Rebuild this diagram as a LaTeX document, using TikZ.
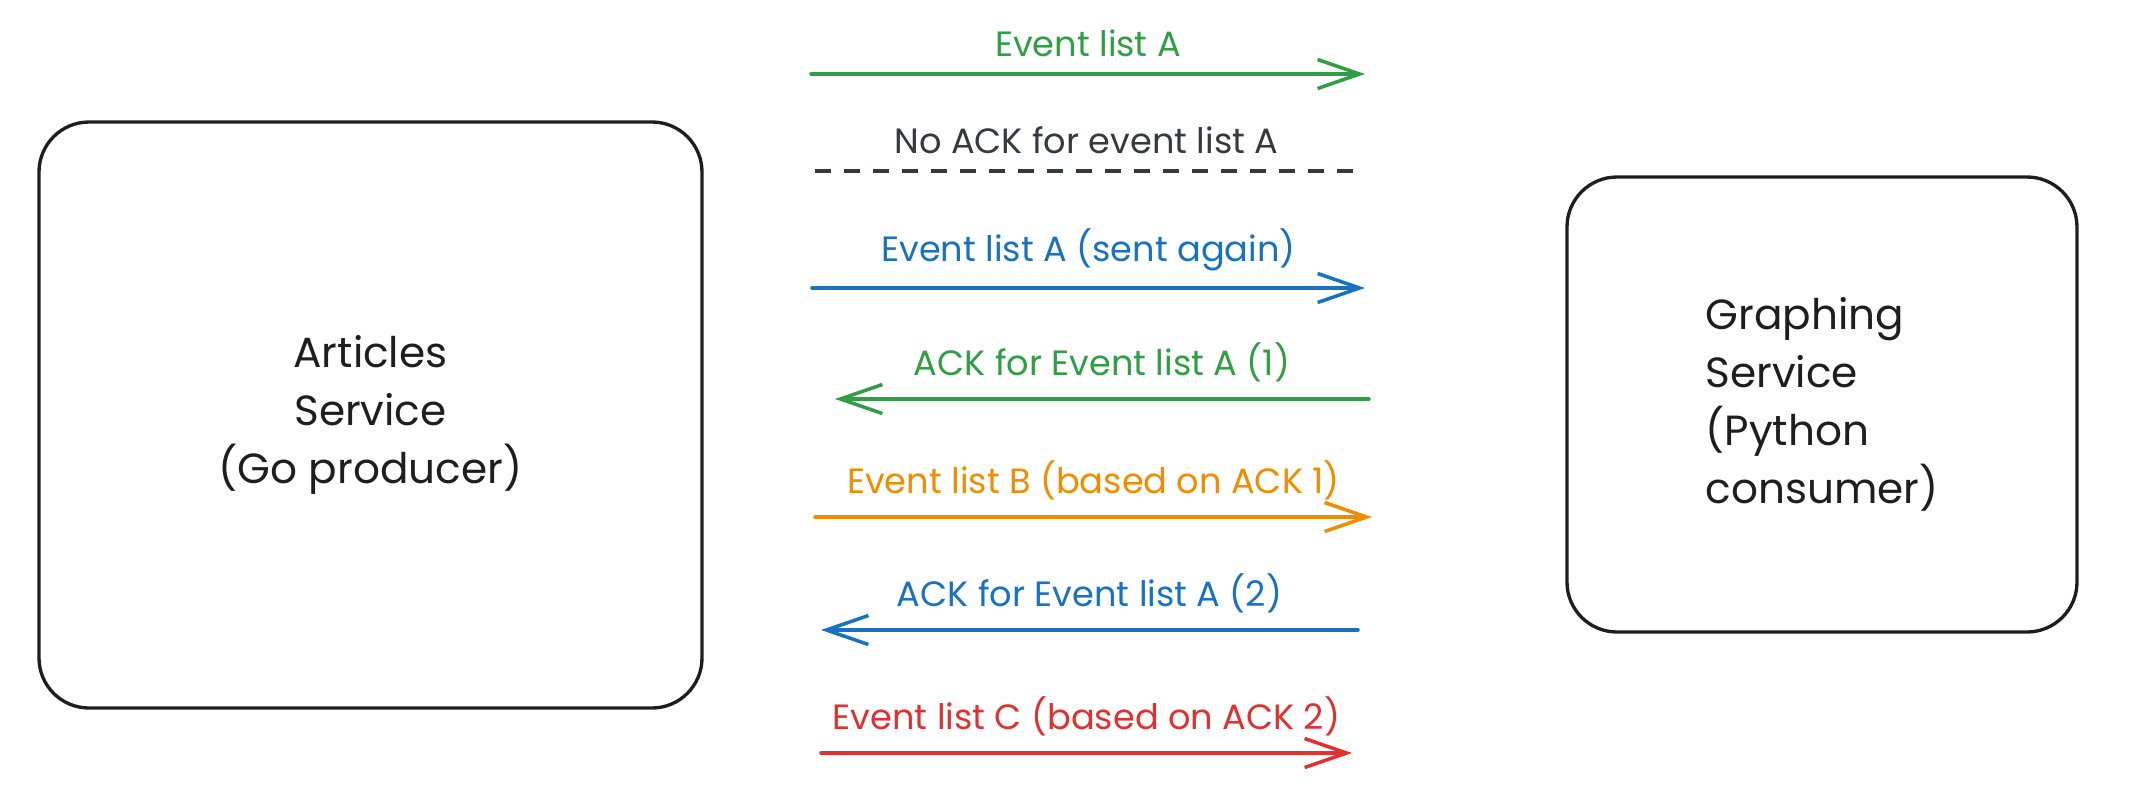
\documentclass[tikz,border=0pt]{standalone}
\usepackage{fontspec}
\setmainfont{Poppins}
\usetikzlibrary{arrows.meta}

\definecolor{exgreen}{HTML}{2F9E44}
\definecolor{exblue}{HTML}{1971C2}
\definecolor{exorange}{HTML}{F08C00}
\definecolor{exred}{HTML}{E03131}
\definecolor{exdark}{HTML}{1E1E1E}
\definecolor{exgray}{HTML}{343A40}

\tikzset{
  svcbox/.style={draw=exdark, line width=0.95pt, rounded corners=0.5cm,
    text=exdark, font=\fontsize{12}{16.5}\selectfont},
  msg/.style={line width=1pt, line cap=round,
    -{Straight Barb[length=0.42cm, width=0.29cm, line width=1pt]}},
  msglabel/.style={font=\fontsize{10}{12}\selectfont, above=0.04cm}
}

\begin{document}
\begin{tikzpicture}
        \useasboundingbox (0,0) rectangle (21.29,-7.99);
        % the two services
        \node[svcbox, minimum width=6.63cm, minimum height=5.86cm, align=center]
          (articles) at (3.705,-4.15) {Articles\\Service\\(Go producer)};
        \node[svcbox, minimum width=5.10cm, minimum height=4.55cm, align=left]
          (graphing) at (18.22,-4.045) {Graphing\\Service\\(Python\\consumer)};
        % messages between them
        \foreach \y/\xa/\xb/\col/\txt [count=\i] in {
            -0.74/8.11/13.65/exgreen/{Event list A},
            -2.88/8.12/13.65/exblue/{Event list A (sent again)},
            -3.99/13.69/8.35/exgreen/{ACK for Event list A (1)},
            -5.17/8.15/13.72/exorange/{Event list B (based on ACK 1)},
            -6.30/13.58/8.21/exblue/{ACK for Event list A (2)},
            -7.53/8.21/13.52/exred/{Event list C (based on ACK 2)}} {
          \coordinate (s\i) at (\xa,\y);
          \coordinate (e\i) at (\xb,\y);
          \draw[msg, draw=\col] (s\i) -- (e\i)
            node[msglabel, midway, text=\col] (lbl\i) {\txt};
        }
        \coordinate (noackstart) at (8.15,-1.71);
        \coordinate (noackend) at (13.58,-1.71);
        \draw[exgray, line width=1pt, dash pattern=on 0.16cm off 0.13cm]
          (noackstart) -- (noackend)
          node[msglabel, midway, text=exgray] (noack) {No ACK for event list A};
        \end{tikzpicture}
\end{document}
